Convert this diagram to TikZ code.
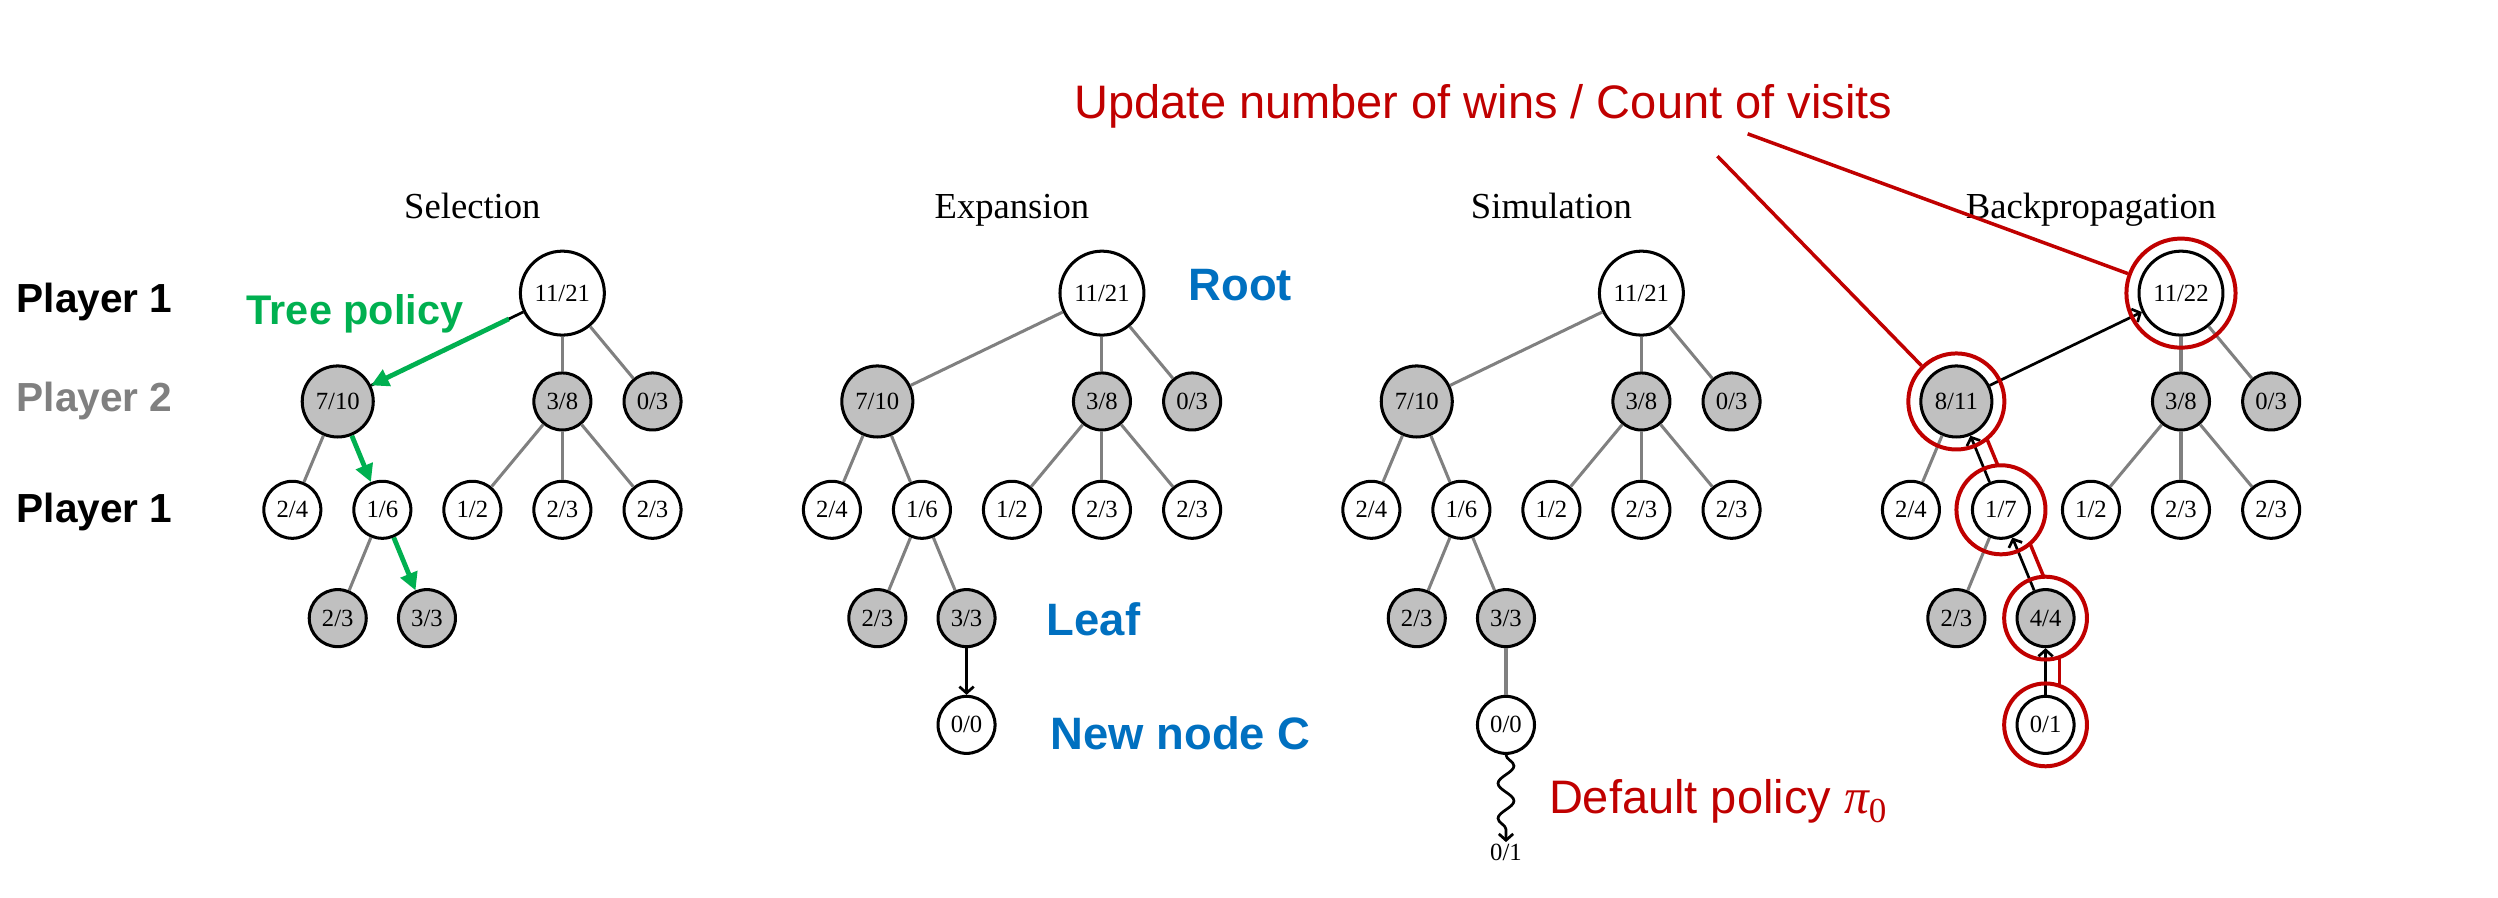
\documentclass[tikz,border=0pt]{standalone}
\usepackage{fontspec}
\setmainfont{Liberation Serif}
\newfontfamily\sansf{Liberation Sans}
\usetikzlibrary{arrows.meta,calc,decorations.pathmorphing}
\definecolor{mgreen}{HTML}{00B050}
\definecolor{mblue}{HTML}{0070C0}
\definecolor{mred}{HTML}{C00000}
\definecolor{mgrey}{HTML}{808080}
\definecolor{nfill}{HTML}{C0C0C0}
\tikzset{
  nd/.style={circle, draw=black, line width=1.9pt, minimum size=35.8pt, inner sep=0pt,
    font=\fontsize{15.5}{18}\selectfont, fill=white},
  gnd/.style={nd, fill=nfill},
  rootnd/.style={nd, minimum size=52.7pt},
  bignd/.style={gnd, minimum size=44.6pt},
  edge/.style={draw=mgrey, line width=1.9pt},
  tpol/.style={draw=mgreen, line width=3pt, -{Triangle[length=11pt,width=11pt]}},
  bkarr/.style={draw=black, line width=1.7pt, -{Straight Barb[length=4pt,width=9pt]}},
  redring/.style={circle, draw=mred, line width=2.5pt, inner sep=0pt},
  redln/.style={draw=mred, line width=2.2pt},
  ttl/.style={font=\fontsize{23}{27}\selectfont, anchor=base},
  plab/.style={font=\sansf\bfseries\fontsize{25.5}{30}\selectfont, anchor=base west},
  blab/.style={font=\sansf\bfseries\fontsize{28.5}{34}\selectfont, text=mblue, anchor=base west},
  rlab/.style={font=\sansf\fontsize{29.5}{35}\selectfont, text=mred, anchor=base west},
}
% #1 prefix, #2 x of root, #3 root label, #4 A label, #5 E label, #6 J label, #7 title
\newcommand\mctree[7]{%
  \begin{scope}[xshift=#2pt]
    \node[ttl] (#1t) at (-56.5,137) {#7};
    \node[rootnd] (#1r) at (0,184) {#3};
    \node[bignd] (#1A) at (-141,252) {#4};
    \node[gnd] (#1B) at (0,252) {3/8};
    \node[gnd] (#1C) at (56.6,252) {0/3};
    \node[nd] (#1D) at (-169.5,320) {2/4};
    \node[nd] (#1E) at (-113,320) {#5};
    \node[nd] (#1F) at (-56.5,320) {1/2};
    \node[nd] (#1G) at (0,320) {2/3};
    \node[nd] (#1H) at (56.6,320) {2/3};
    \node[gnd] (#1I) at (-141,388) {2/3};
    \node[gnd] (#1J) at (-85,388) {#6};
  \end{scope}
  \draw[edge] (#1r) -- (#1B);
  \draw[edge] (#1r) -- (#1C);
  \draw[edge] (#1A) -- (#1D);
  \draw[edge] (#1B) -- (#1F);
  \draw[edge] (#1B) -- (#1G);
  \draw[edge] (#1B) -- (#1H);
  \draw[edge] (#1E) -- (#1I);
}
\begin{document}
\begin{tikzpicture}[x=1pt,y=-1pt]
  \useasboundingbox (0,0) rectangle (1568,563.67);
  \fill[white] (0,0) rectangle (1568,563.67);

  % left labels
  \node[plab] (p1) at (7,196) {Player 1};
  \node[plab, text=mgrey] (p2) at (7,258.3) {Player 2};
  \node[plab] (p3) at (7,328.2) {Player 1};

  % Selection
  \mctree{se}{353}{11/21}{7/10}{1/6}{3/3}{Selection}
  \draw[black, line width=1.7pt] (ser) -- (seA);
  \draw[tpol, shorten <=10pt] (ser) -- (seA);
  \draw[tpol] (seA) -- (seE);
  \draw[tpol] (seE) -- (seJ);
  \node[font=\sansf\bfseries\fontsize{26}{30}\selectfont, text=mgreen, anchor=base west] (tp) at (151.4,204) {Tree policy};

  % Expansion
  \mctree{ex}{691.7}{11/21}{7/10}{1/6}{3/3}{Expansion}
  \draw[edge] (exr) -- (exA);
  \draw[edge] (exA) -- (exE);
  \draw[edge] (exE) -- (exJ);
  \node[nd] (exK) at (606.7,455) {0/0};
  \draw[bkarr] (exJ) -- (exK);
  \node[blab] (lroot) at (742.6,188.4) {Root};
  \node[blab] (lleaf) at (653.6,398.6) {Leaf};
  \node[blab] (lnew) at (656,470.7) {New node C};

  % Simulation
  \mctree{si}{1030.3}{11/21}{7/10}{1/6}{3/3}{Simulation}
  \draw[edge] (sir) -- (siA);
  \draw[edge] (siA) -- (siE);
  \draw[edge] (siE) -- (siJ);
  \node[nd] (siK) at (945.3,455) {0/0};
  \draw[edge] (siJ) -- (siK);
  \node[font=\fontsize{15.5}{18}\selectfont, inner sep=1pt] (si01) at (945.3,535) {0/1};
  \draw[line width=1.7pt, -{Straight Barb[length=4pt,width=9pt]}, decorate,
        decoration={snake, amplitude=5pt, segment length=22pt, post length=6pt}]
        (siK.south) -- (si01.north);
  \node[rlab] (dp) at (968.8,510.5) {Default policy {\rmfamily\itshape\fontsize{31}{35}\selectfont π}\raisebox{-6pt}{\rmfamily\fontsize{22}{26}\selectfont 0}};

  % Backpropagation
  \mctree{bp}{1369}{11/22}{8/11}{1/7}{4/4}{Backpropagation}
  \node[nd] (bpK) at (1284,455) {0/1};
  \draw[bkarr] (bpK) -- (bpJ);
  \draw[bkarr] (bpJ) -- (bpE);
  \draw[bkarr] (bpE) -- (bpA);
  \draw[bkarr] (bpA) -- (bpr);
  \node[redring, minimum size=68.5pt] (rrr) at (bpr.center) {};
  \node[redring, minimum size=60.3pt] (rrA) at (bpA.center) {};
  \node[redring, minimum size=55.9pt] (rrE) at (bpE.center) {};
  \node[redring, minimum size=52pt] (rrJ) at (bpJ.center) {};
  \node[redring, minimum size=52pt] (rrK) at (bpK.center) {};
  \draw[redln, shorten <=24.5pt, shorten >=24.5pt]
    ($(bpK)!8.8pt!-90:(bpJ)$) -- ($(bpJ)!8.8pt!90:(bpK)$);
  \draw[redln, shorten <=24.5pt, shorten >=26.5pt]
    ($(bpJ)!8.8pt!-90:(bpE)$) -- ($(bpE)!8.8pt!90:(bpJ)$);
  \draw[redln, shorten <=26.5pt, shorten >=28.8pt]
    ($(bpE)!8.8pt!-90:(bpA)$) -- ($(bpA)!8.8pt!90:(bpE)$);

  % update label
  \node[rlab] (upd) at (671,74.3) {Update number of wins / Count of visits};
  \coordinate (u1) at (1078,98);
  \coordinate (u2) at (1097,84);
  \draw[redln] (u1) -- (rrA);
  \draw[redln] (u2) -- (rrr);
\end{tikzpicture}
\end{document}
